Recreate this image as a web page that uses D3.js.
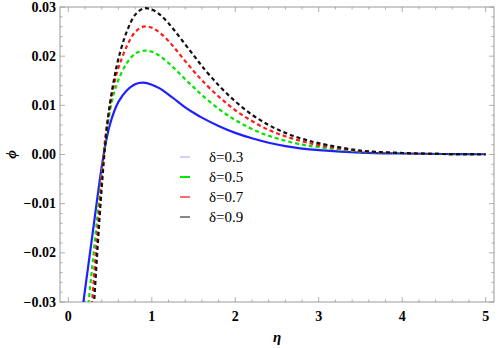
<!DOCTYPE html>
<html>
<head>
<meta charset="utf-8">
<script src="https://d3js.org/d3.v7.min.js"></script>
<style>
  html, body { margin: 0; padding: 0; background: #fff; }
  svg { display: block; }
  svg text { font-family: 'Liberation Serif', 'Times New Roman', serif; }
</style>
</head>
<body>
<div id="chart"></div>
<script>
// eta grid and phi values
const eta = [0.15, 0.2, 0.25, 0.3, 0.35, 0.4, 0.45, 0.5, 0.55, 0.6, 0.7, 0.8, 0.9, 1.0, 1.1, 1.2, 1.3, 1.4, 1.5, 1.6, 1.8, 2.0, 2.2, 2.4, 2.6, 2.8, 3.0, 3.5, 4.0, 4.5, 5.0];
const phiD03 = [-0.034, -0.0275, -0.0212, -0.0149, -0.0085, -0.0025, 0.0025, 0.0062, 0.0088, 0.0107, 0.0130, 0.0143, 0.0146, 0.0142, 0.0134, 0.0122, 0.0109, 0.0096, 0.0085, 0.0075, 0.0058, 0.0044, 0.0033, 0.0024, 0.0017, 0.0012, 0.0009, 0.0004, 0.0002, 0.0001, 0.00005];
const phiD05 = [-0.046, -0.0371, -0.0288, -0.0205, -0.0122, -0.0040, 0.0035, 0.0090, 0.0127, 0.0152, 0.0186, 0.0205, 0.0211, 0.0209, 0.0200, 0.0186, 0.0170, 0.0153, 0.0137, 0.0121, 0.0093, 0.0070, 0.0052, 0.0038, 0.0028, 0.0020, 0.0015, 0.0006, 0.00025, 0.0001, 0.00005];
const phiD07 = [-0.059, -0.048, -0.0375, -0.0265, -0.0155, -0.0045, 0.0045, 0.0102, 0.0145, 0.0176, 0.0220, 0.0249, 0.0260, 0.0258, 0.0247, 0.0231, 0.0211, 0.0190, 0.0170, 0.0151, 0.0118, 0.0090, 0.0068, 0.0050, 0.0037, 0.0027, 0.0019, 0.0007, 0.0003, 0.0001, 0.00005];
const phiD09 = [-0.072, -0.059, -0.046, -0.0325, -0.0190, -0.0068, 0.0035, 0.0105, 0.0155, 0.0195, 0.0250, 0.0284, 0.0297, 0.0295, 0.0284, 0.0267, 0.0246, 0.0224, 0.0202, 0.0180, 0.0141, 0.0108, 0.0081, 0.0060, 0.0044, 0.0032, 0.0023, 0.0008, 0.0003, 0.0001, 0.00005];

const seriesNames = ['\u03b4=0.3', '\u03b4=0.5', '\u03b4=0.7', '\u03b4=0.9'];
const xTicks = [0, 1, 2, 3, 4, 5];
const yTicks = [-0.03, -0.02, -0.01, 0.00, 0.01, 0.02, 0.03];

const W = 498, H = 348;
const margin = { top: 7, right: 4, bottom: 46, left: 60 };

const svg = d3.select('#chart').append('svg')
  .attr('width', W).attr('height', H);

const x = d3.scaleLinear().domain([-0.1, 5.1]).range([margin.left, W - margin.right]);
const y = d3.scaleLinear().domain([-0.03, 0.03]).range([H - margin.bottom, margin.top]);

const styles = [
  { color: '#1f1fff', dash: null, width: 2.2, legColor: '#b4b4ff', legWidth: 1.2 },
  { color: '#00e600', dash: '4,3', width: 2.2, legColor: '#00e600', legWidth: 2 },
  { color: '#ff1a1a', dash: '4,3', width: 2.2, legColor: '#ff6a6a', legWidth: 2 },
  { color: '#111111', dash: '4,3', width: 2.2, legColor: '#555555', legWidth: 1.4 }
];
const series = [phiD03, phiD05, phiD07, phiD09];

// clip to the frame
svg.append('clipPath').attr('id', 'plotclip')
  .append('rect')
  .attr('x', x(-0.1)).attr('y', y(0.03))
  .attr('width', x(5.1) - x(-0.1)).attr('height', y(-0.03) - y(0.03));

// frame
const frameColor = '#9a9a9a';
svg.append('rect')
  .attr('x', x(-0.1)).attr('y', y(0.03))
  .attr('width', x(5.1) - x(-0.1)).attr('height', y(-0.03) - y(0.03))
  .attr('fill', 'none').attr('stroke', frameColor).attr('stroke-width', 1);

// ticks on all four sides, pointing inward
const ticksG = svg.append('g').attr('stroke', frameColor).attr('stroke-width', 0.8);
const xMinor = d3.range(0, 5.01, 0.2).filter(v => Math.abs(v - Math.round(v)) > 1e-6);
const yMinor = d3.range(-0.03, 0.0301, 0.002).filter(v => Math.abs(v * 100 - Math.round(v * 100)) > 1e-6);
const yB = y(-0.03), yT = y(0.03), xL = x(-0.1), xR = x(5.1);
xTicks.forEach(v => {
  ticksG.append('line').attr('x1', x(v)).attr('x2', x(v)).attr('y1', yB).attr('y2', yB - 5);
  ticksG.append('line').attr('x1', x(v)).attr('x2', x(v)).attr('y1', yT).attr('y2', yT + 5);
});
xMinor.forEach(v => {
  ticksG.append('line').attr('x1', x(v)).attr('x2', x(v)).attr('y1', yB).attr('y2', yB - 2.5);
  ticksG.append('line').attr('x1', x(v)).attr('x2', x(v)).attr('y1', yT).attr('y2', yT + 2.5);
});
yTicks.forEach(v => {
  ticksG.append('line').attr('x1', xL).attr('x2', xL + 5).attr('y1', y(v)).attr('y2', y(v));
  ticksG.append('line').attr('x1', xR).attr('x2', xR - 5).attr('y1', y(v)).attr('y2', y(v));
});
yMinor.forEach(v => {
  ticksG.append('line').attr('x1', xL).attr('x2', xL + 2.5).attr('y1', y(v)).attr('y2', y(v));
  ticksG.append('line').attr('x1', xR).attr('x2', xR - 2.5).attr('y1', y(v)).attr('y2', y(v));
});

// tick labels
svg.append('g').selectAll('text').data(xTicks).join('text')
  .attr('x', d => x(d)).attr('y', yB + 19)
  .attr('text-anchor', 'middle')
  .attr('font-weight', 'bold').attr('font-size', 14)
  .text(d => d);

svg.append('g').selectAll('text').data(yTicks).join('text')
  .attr('x', xL - 4).attr('y', d => y(d) + 4.5)
  .attr('text-anchor', 'end')
  .attr('font-weight', 'bold').attr('font-size', 14)
  .text(d => d3.format('.2f')(d).replace('-', '\u2212'));

// axis titles
svg.append('text')
  .attr('x', (x(0) + x(5)) / 2).attr('y', 342)
  .attr('text-anchor', 'middle')
  .attr('font-style', 'italic').attr('font-weight', 'bold').attr('font-size', 15)
  .text('\u03b7');

svg.append('text')
  .attr('transform', `translate(16,${y(0)}) rotate(-90)`)
  .attr('text-anchor', 'middle')
  .attr('font-style', 'italic').attr('font-weight', 'bold').attr('font-size', 15)
  .text('\u03d5');

// curves (solid blue first, dashed ones on top)
const line = d3.line().x((d, i) => x(eta[i])).y(d => y(d)).curve(d3.curveCatmullRom.alpha(0.5));
const curves = svg.append('g').attr('clip-path', 'url(#plotclip)');
series.forEach((s, k) => {
  curves.append('path')
    .datum(s)
    .attr('d', line)
    .attr('fill', 'none')
    .attr('stroke', styles[k].color)
    .attr('stroke-width', styles[k].width)
    .attr('stroke-dasharray', styles[k].dash);
});

// legend
const leg = svg.append('g');
seriesNames.forEach((name, k) => {
  const ly = 157 + k * 20;
  leg.append('line')
    .attr('x1', 180).attr('x2', 190).attr('y1', ly).attr('y2', ly)
    .attr('stroke', styles[k].legColor).attr('stroke-width', styles[k].legWidth);
  leg.append('text')
    .attr('x', 209).attr('y', ly + 5)
    .attr('font-size', 15)
    .text(name);
});
</script>
</body>
</html>
